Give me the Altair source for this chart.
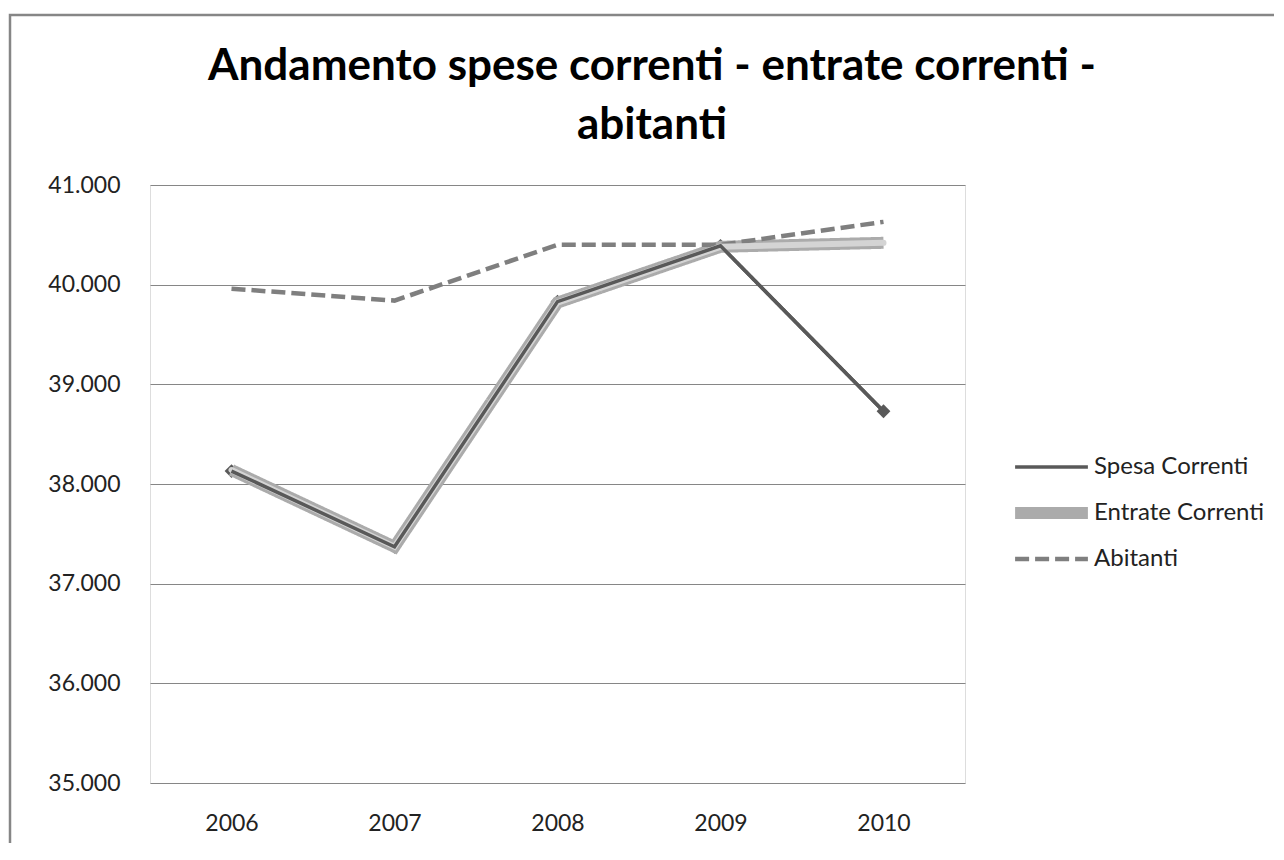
import altair as alt
import pandas as pd

years = ["2006", "2007", "2008", "2009", "2010"]
spesa = [38130, 37370, 39830, 40390, 38730]
entrate = [38140, 37370, 39820, 40380, 40420]
abitanti = [39960, 39840, 40400, 40400, 40630]
series_names = ["Spesa Correnti", "Entrate Correnti", "Abitanti"]
y_ticks = [35000, 36000, 37000, 38000, 39000, 40000, 41000]
title_lines = ["Andamento spese correnti - entrate correnti -", "abitanti"]

rows = []
for name, vals in zip(series_names, [spesa, entrate, abitanti]):
    for yr, v in zip(years, vals):
        rows.append({"anno": yr, "valore": v, "serie": name})
df = pd.DataFrame(rows)

FONT = "Lato"
x_enc = alt.X("anno:O", scale=alt.Scale(type="point", padding=0.5), title=None,
              axis=alt.Axis(labelAngle=0, ticks=False, domain=False, grid=False,
                            labelFontSize=23, labelPadding=29, labelFont=FONT,
                            labelColor="#222222"))
y_enc = alt.Y("valore:Q", scale=alt.Scale(domain=[35000, 41000], nice=False, zero=False),
              title=None,
              axis=alt.Axis(values=y_ticks, ticks=False, domain=False, grid=True,
                            gridColor="#868686", gridWidth=1.2,
                            labelExpr="replace(format(datum.value, ',.0f'), ',', '.')",
                            labelFontSize=23, labelPadding=30, labelFont=FONT,
                            labelColor="#222222"))

base = alt.Chart(df)

points = base.transform_filter(alt.datum.serie == "Spesa Correnti").mark_point(
    shape="diamond", filled=True, size=190, color="#595959", opacity=1
).encode(x=x_enc, y=y_enc)

main = base.mark_line(strokeCap="butt", strokeJoin="miter").encode(
    x=x_enc, y=y_enc,
    color=alt.Color("serie:N", sort=series_names,
                    scale=alt.Scale(domain=series_names, range=["#595959", "#ababab", "#7f7f7f"]),
                    legend=alt.Legend(title=None, orient="none", legendX=859, legendY=268,
                                      symbolType="stroke", symbolSize=5300,
                                      clipHeight=28, rowPadding=18,
                                      labelFontSize=24, labelFont=FONT, labelColor="#222222",
                                      labelOffset=0, labelLimit=400, padding=0)),
    strokeDash=alt.StrokeDash("serie:N", sort=series_names,
                              scale=alt.Scale(type="ordinal", domain=series_names,
                                              range=[[1, 0], [1, 0], [14, 6]])),
    strokeWidth=alt.StrokeWidth("serie:N", sort=series_names,
                                scale=alt.Scale(type="ordinal", domain=series_names,
                                                range=[3.5, 12, 4.5])),
    detail="serie:N",
)

inner = base.transform_filter(alt.datum.serie == "Entrate Correnti").mark_line(
    color="#d4d4d4", strokeWidth=6, strokeCap="round"
).encode(x=x_enc, y=y_enc)

spesa_top = base.transform_filter(alt.datum.serie == "Spesa Correnti").mark_line(
    color="#595959", strokeWidth=3.5
).encode(x=x_enc, y=y_enc)

one = pd.DataFrame({"k": [0]})

frame = alt.Chart(one).mark_rect(
    filled=False, stroke="#868686", strokeWidth=2.5
).encode(x=alt.value(-140), x2=alt.value(1500), y=alt.value(-170), y2=alt.value(1000))

title = alt.Chart(one).mark_text(
    text=title_lines, font=FONT, fontSize=44, fontWeight="bold", color="#000000",
    align="center", baseline="alphabetic", lineHeight=59
).encode(x=alt.value(502), y=alt.value(-105))

chart = alt.layer(frame, title, points, main, inner, spesa_top).properties(
    width=815, height=598,
    autosize=alt.AutoSizeParams(type="none"),
    padding={"left": 142, "top": 177, "right": 309, "bottom": 60},
).configure_view(
    fill="#d9d9d9", stroke="#868686", strokeWidth=1.5
).configure(background="#ffffff")

chart.save("out.html", embed_options={"renderer": "svg", "actions": False})
